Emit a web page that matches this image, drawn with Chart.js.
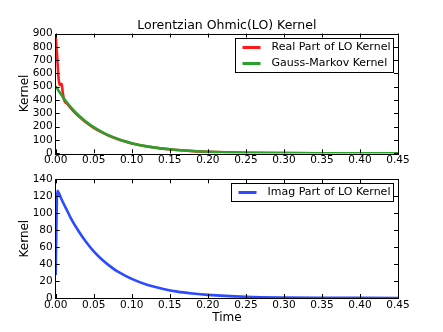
<!DOCTYPE html>
<html><head><meta charset="utf-8">
<script src="https://cdn.jsdelivr.net/npm/chart.js@4"></script>
<style>
html,body{margin:0;padding:0;background:#fff;}
#wrap{position:relative;width:443px;height:332px;overflow:hidden;}
canvas{position:absolute;left:0;}
</style>
</head><body>
<div id="wrap">
<canvas id="c1" width="443" height="170" style="top:0px"></canvas>
<canvas id="c2" width="443" height="162" style="top:170px"></canvas>
</div>
<script>
// ---- data ----
const realTime    = [0, 0.0007, 0.0021, 0.0034, 0.0047, 0.006, 0.0068, 0.0079, 0.0092, 0.011, 0.015, 0.02, 0.03, 0.04, 0.05, 0.06, 0.07, 0.08, 0.09, 0.10, 0.12, 0.14, 0.16, 0.18, 0.20, 0.25, 0.30, 0.35, 0.40, 0.45];
const realPart    = [880, 820, 715, 587, 525, 512, 522, 518, 460, 402, 372, 338, 279, 231, 191, 159, 132, 109, 90, 74, 51, 35, 24.5, 16.5, 11, 4.3, 1.7, 0.7, 0.3, 0.1];
const gmTime      = [0, 0.005, 0.01, 0.015, 0.02, 0.03, 0.04, 0.05, 0.06, 0.07, 0.08, 0.09, 0.10, 0.12, 0.14, 0.16, 0.18, 0.20, 0.25, 0.30, 0.35, 0.40, 0.45];
const gaussMarkov = [505, 460, 418, 380, 346, 286, 237, 196, 163, 135, 112, 92, 76, 52, 36, 25, 17, 11.5, 4.5, 1.8, 0.7, 0.3, 0.1];
const imagTime    = [0, 0.0008, 0.0015, 0.0022, 0.004, 0.007, 0.01, 0.015, 0.02, 0.03, 0.04, 0.05, 0.06, 0.07, 0.08, 0.09, 0.10, 0.12, 0.14, 0.16, 0.18, 0.20, 0.25, 0.30, 0.35, 0.40, 0.45];
const imagPart    = [27, 80, 115, 126.5, 124, 118, 112, 103, 94, 79, 66, 55, 46, 38.5, 32, 27, 22.5, 15.5, 11, 7.5, 5.3, 3.7, 1.5, 0.6, 0.25, 0.1, 0.04];

const xTicks       = [0, 0.05, 0.10, 0.15, 0.20, 0.25, 0.30, 0.35, 0.40, 0.45];
const topYTicks    = [0, 100, 200, 300, 400, 500, 600, 700, 800, 900];
const bottomYTicks = [0, 20, 40, 60, 80, 100, 120, 140];

const chartTitle = 'Lorentzian Ohmic(LO) Kernel';
const yTitle = 'Kernel';
const xTitle = 'Time';
const labelReal = 'Real Part of LO Kernel';
const labelGM = 'Gauss-Markov Kernel';
const labelImag = 'Imag Part of LO Kernel';

// ---- styling ----
const FAM = '"DejaVu Sans", sans-serif';
const tickFont = {family: FAM, size: 10.5};
const labFont = {family: FAM, size: 12, weight: 'normal'};
const titleFont = {family: FAM, size: 12.5, weight: 'normal'};
const pts = (xs, ys) => xs.map((x, i) => ({x: x, y: ys[i]}));

const mplPlugin = {
  id: 'mpl',
  afterDatasetsDraw(chart) {
    const {ctx, chartArea: a, scales: {x, y}} = chart;
    ctx.save();
    ctx.strokeStyle = '#000';
    ctx.lineWidth = 1;
    ctx.beginPath();
    x.ticks.forEach(t => {
      const px = Math.round(x.getPixelForValue(t.value)) + 0.5;
      ctx.moveTo(px, a.bottom); ctx.lineTo(px, a.bottom - 4);
      ctx.moveTo(px, a.top); ctx.lineTo(px, a.top + 4);
    });
    y.ticks.forEach(t => {
      const py = Math.round(y.getPixelForValue(t.value)) + 0.5;
      ctx.moveTo(a.left, py); ctx.lineTo(a.left + 4, py);
      ctx.moveTo(a.right, py); ctx.lineTo(a.right - 4, py);
    });
    ctx.stroke();
    ctx.strokeRect(Math.round(a.left) - 0.5, Math.round(a.top) + 0.5, Math.round(a.right - a.left) + 1, Math.round(a.bottom - a.top));
    // legend box (matplotlib style)
    const o = chart.options.plugins.mpl;
    const ds = chart.data.datasets;
    ctx.font = '11px ' + FAM;
    let tw = 0;
    ds.forEach(d => { tw = Math.max(tw, ctx.measureText(d.label).width); });
    const rowH = 16;
    const w = 7 + 18 + 11 + tw + 3;
    const h = ds.length * rowH + 2;
    const bx = Math.round(o.right - w) + 0.5, by = Math.round(o.top) + 0.5;
    ctx.fillStyle = '#fff';
    ctx.fillRect(bx, by, Math.round(w), Math.round(h));
    ctx.strokeRect(bx, by, Math.round(w), Math.round(h));
    ds.forEach((d, i) => {
      const cy = by + 1 + rowH / 2 + i * rowH;
      ctx.strokeStyle = d.borderColor;
      ctx.lineWidth = 3;
      ctx.beginPath(); ctx.moveTo(bx + 7, cy); ctx.lineTo(bx + 25, cy); ctx.stroke();
      ctx.fillStyle = '#000';
      ctx.textBaseline = 'middle';
      ctx.textAlign = 'left';
      ctx.fillText(d.label, bx + 36, cy);
    });
    ctx.restore();
  }
};

function scales(yTicks, yMax, xHeight, showXTitle) {
  return {
    x: {
      type: 'linear', min: 0, max: 0.45,
      afterBuildTicks: s => { s.ticks = xTicks.map(v => ({value: v})); },
      afterFit: s => { s.height = xHeight; },
      ticks: {font: tickFont, color: '#000', padding: 1, maxRotation: 0, autoSkip: false,
              callback: v => Number(v).toFixed(2)},
      grid: {display: false, drawTicks: false},
      border: {display: false},
      title: {display: showXTitle, text: xTitle, font: labFont, color: '#000', padding: {top: 0, bottom: 6.8}}
    },
    y: {
      type: 'linear', min: 0, max: yMax,
      afterBuildTicks: s => { s.ticks = yTicks.map(v => ({value: v})); },
      afterFit: s => { s.width = 55.7; },
      ticks: {font: tickFont, color: '#000', padding: 3, autoSkip: false, callback: v => String(v)},
      grid: {display: false, drawTicks: false},
      border: {display: false},
      title: {display: true, text: yTitle, font: labFont, color: '#000', padding: {top: 17.8, bottom: 0}}
    }
  };
}

Chart.defaults.font.family = FAM;
Chart.defaults.color = '#000';

new Chart(document.getElementById('c1'), {
  type: 'line',
  data: {datasets: [
    {label: labelReal, data: pts(realTime, realPart), borderColor: '#ff1a1a', borderWidth: 2.6, pointRadius: 0, cubicInterpolationMode: 'monotone', fill: false, order: 2},
    {label: labelGM, data: pts(gmTime, gaussMarkov), borderColor: '#2ca02c', borderWidth: 2.6, pointRadius: 0, cubicInterpolationMode: 'monotone', fill: false, order: 1}
  ]},
  options: {
    responsive: false, animation: false, devicePixelRatio: 1,
    layout: {padding: {left: 0, right: 45, top: 0, bottom: 0}},
    scales: scales(topYTicks, 900, 16.7, false),
    plugins: {
      legend: {display: false}, tooltip: {enabled: false},
      title: {display: true, text: chartTitle, font: titleFont, color: '#000', fullSize: false, padding: {top: 18.5, bottom: 0}},
      mpl: {right: 393, top: 38}
    }
  },
  plugins: [mplPlugin]
});

new Chart(document.getElementById('c2'), {
  type: 'line',
  data: {datasets: [
    {label: labelImag, data: pts(imagTime, imagPart), borderColor: '#2a4bff', borderWidth: 2.6, pointRadius: 0, cubicInterpolationMode: 'monotone', fill: false}
  ]},
  options: {
    responsive: false, animation: false, devicePixelRatio: 1,
    layout: {padding: {left: 0, right: 45, top: 7.7, bottom: 0}},
    scales: scales(bottomYTicks, 140, 34, true),
    plugins: {
      legend: {display: false}, tooltip: {enabled: false},
      mpl: {right: 393, top: 13.3}
    }
  },
  plugins: [mplPlugin]
});
</script>
</body></html>
